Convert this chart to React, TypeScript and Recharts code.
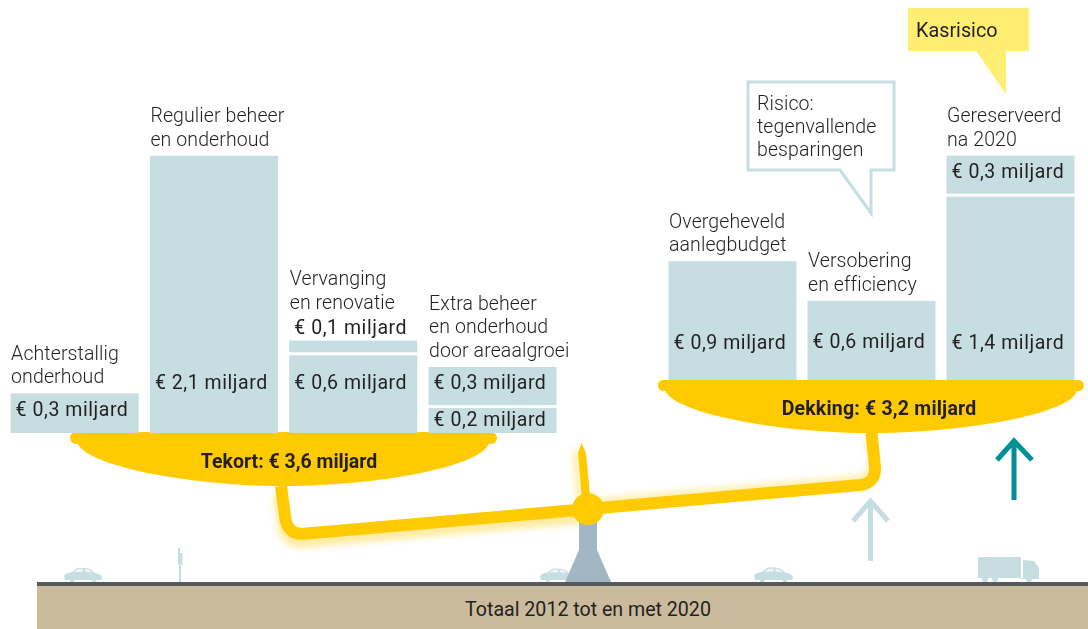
import { Bar, BarChart, LabelList, XAxis, YAxis } from 'recharts'

// bedragen in miljard euro
const categories = ['Achterstallig', 'Regulier', 'Vervanging', 'Extra', 'Overgeheveld', 'Versobering', 'Gereserveerd']
const lowerValues = [0.3, 2.1, 0.6, 0.2, 0.9, 0.6, 1.4]
const upperValues = [0, 0, 0.1, 0.3, 0, 0, 0.3]
const titles = [
  ['Achterstallig', 'onderhoud'],
  ['Regulier beheer', 'en onderhoud'],
  ['Vervanging', 'en renovatie'],
  ['Extra beheer', 'en onderhoud', 'door areaalgroei'],
  ['Overgeheveld', 'aanlegbudget'],
  ['Versobering', 'en efficiency'],
  ['Gereserveerd', 'na 2020'],
]
const sides = ['left', 'left', 'left', 'left', 'right', 'right', 'right']
// hoogte van de schaal boven de grond, de balans staat scheef
const panLift: Record<string, number> = { left: 1.129, right: 1.53 }

const table = categories.map((name, i) => {
  const side = sides[i]
  return {
    name,
    [`${side}Base`]: panLift[side],
    [`${side}Lower`]: lowerValues[i],
    [`${side}Upper`]: upperValues[i],
  }
})

// tekstplaatsing t.o.v. de bovenkant van het segment
const lowerLabelDy = [15, 226, 28, 12.4, 80, 40, 146]
const upperLabelDy = [0, 0, -13.6, 15, 0, 0, 14.6]
const titleExtra = [0, 0, 22, 0, 0, 0, 0]

const W = 1088
const H = 629
const BAR = '#c6dee1'
const YELLOW = '#ffcb00'
const INK = '#231f20'
const FONT = 'Roboto, sans-serif'
const GAP = 1.5

const euro = (v: number) => `€ ${String(v).replace('.', ',')} miljard`

function Segment(props: any) {
  const { x, y, width, height, trimTop = 0, trimBottom = 0 } = props
  if (!height || height <= 0) return null
  return <rect x={x} y={y + trimTop} width={width} height={height - trimTop - trimBottom} fill={BAR} />
}

function ValueLabel(props: any) {
  const { x, y, index, dys, values, side } = props
  if (sides[index] !== side || !values[index]) return null
  return (
    <text x={x + 5} y={y + dys[index] + 7.3} fontFamily={FONT} fontSize={19.5} fill={INK} letterSpacing={0.55}>
      {euro(values[index])}
    </text>
  )
}

function TitleLabel(props: any) {
  const { x, y, index, side } = props
  if (sides[index] !== side) return null
  const lines = titles[index]
  return (
    <text fontFamily={FONT} fontWeight={300} fontSize={19.5} letterSpacing={0.1} fill={INK}>
      {lines.map((line, i) => (
        <tspan key={line} x={x + 0.5} y={y - 10 - titleExtra[index] - (lines.length - 1 - i) * 23.5}>
          {line}
        </tspan>
      ))}
    </text>
  )
}

function Car({ x, w }: { x: number; w: number }) {
  const s = w / 38
  return (
    <g transform={`translate(${x},582) scale(${s})`} fill={BAR}>
      <path d="M0,-6 Q1,-9 8,-10 L13,-14 Q20,-15 26,-13 L31,-9 Q38,-8 38,-4 L37,-2 L1,-2 Z" />
      <path d="M10,-10 L14,-13 L19,-13 L19,-10 Z M21,-13 L25,-12.5 L28,-9.5 L21,-10 Z" fill="#fff" opacity={0.7} />
      <circle cx={8} cy={-2.5} r={2.5} />
      <circle cx={30} cy={-2.5} r={2.5} />
    </g>
  )
}

function Scenery() {
  const beamLeft = 'M281,486 L285,516 Q287,535 304,533.8 L588,509'
  const beamRight = 'M588,509 L860,485 Q876,483 875,467 L871.5,433'
  return (
    <g>
      <defs>
        <filter id="glow" x="-20%" y="-50%" width="140%" height="200%">
          <feGaussianBlur stdDeviation="3.5" />
        </filter>
      </defs>

      {/* grond */}
      <rect x={37} y={586} width={W - 37} height={43} fill="#cbbb9d" />
      <rect x={37} y={582} width={W - 37} height={4} fill="#58595b" />
      <text x={588} y={615.5} textAnchor="middle" fontFamily={FONT} fontSize={19.6} fill={INK}>
        Totaal 2012 tot en met 2020
      </text>

      {/* verkeer */}
      <Car x={64} w={38} />
      <Car x={540} w={36} />
      <Car x={754} w={39} />
      <path d="M178,548 H180 V553 H182.5 V565 H181 V582 H179 V565 H178 Z" fill={BAR} />
      <g fill={BAR}>
        <rect x={978} y={557} width={43} height={21} />
        <path d="M1023,560 L1034,561 L1039,568 V579 H1021 V578 H1023 Z" />
        <circle cx={985} cy={579} r={3} />
        <circle cx={995} cy={579} r={3} />
        <circle cx={1029} cy={579} r={3} />
      </g>

      {/* pijlen */}
      <path d="M870.5,561 V501 M853,521 L870.5,501 L888,521" fill="none" stroke={BAR} strokeWidth={5} />
      <path d="M1014,500 V441 M997,460 L1014,441 L1032,460" fill="none" stroke="#009098" strokeWidth={5} />

      {/* balans */}
      <path d="M579,515 H597 V550 L611,582 H565 L579,550 Z" fill="#a1b8c4" />
      <g filter="url(#glow)" opacity={0.4}>
        <path d={beamLeft} transform="translate(-2,8)" fill="none" stroke={YELLOW} strokeWidth={11} />
        <path d={beamRight} transform="translate(-3,-6)" fill="none" stroke={YELLOW} strokeWidth={6} />
        <path d="M576,450 L580,500" fill="none" stroke={YELLOW} strokeWidth={6} />
      </g>
      <path d={beamLeft} fill="none" stroke={YELLOW} strokeWidth={12} />
      <path d={beamRight} fill="none" stroke={YELLOW} strokeWidth={12} />
      <path d="M581.5,443 L586,453 L590.5,500 L582,500 L578,453 Z" fill={YELLOW} />
      <circle cx={588} cy={509} r={16} fill={YELLOW} />

      {/* schalen */}
      <path d="M77,442 C84,466 190,486 284,486 C378,486 486,466 489,442 Z" fill={YELLOW} />
      <rect x={70} y={432} width={427} height={12} rx={6} fill={YELLOW} />
      <path d="M665,390 C672,413 778,433 872,433 C966,433 1074,413 1077,390 Z" fill={YELLOW} />
      <rect x={658} y={380} width={426} height={11} rx={5.5} fill={YELLOW} />
      <text x={289} y={468} textAnchor="middle" fontFamily={FONT} fontWeight={700} fontSize={19.5} fill={INK}>
        Tekort: € 3,6 miljard
      </text>
      <text x={879} y={415} textAnchor="middle" fontFamily={FONT} fontWeight={700} fontSize={19.5} letterSpacing={0.2} fill={INK}>
        Dekking: € 3,2 miljard
      </text>

      {/* toelichtingen */}
      <path d="M908,8 H1029 V51 H1006 V94 L976,51 H908 Z" fill="#ffee72" />
      <text x={916} y={36.5} fontFamily={FONT} fontSize={19.8} fill={INK}>
        Kasrisico
      </text>
      <path d="M748,82 H894 V170 H871 V213 L840,170 H748 Z" fill="#fff" stroke={BAR} strokeWidth={3} />
      <text fontFamily={FONT} fontWeight={300} fontSize={19.5} letterSpacing={0.1} fill={INK}>
        <tspan x={757} y={110}>Risico:</tspan>
        <tspan x={757} y={133}>tegenvallende</tspan>
        <tspan x={757} y={156}>besparingen</tspan>
      </text>
    </g>
  )
}

export default function App() {
  return (
    <div style={{ position: 'absolute', left: 0, top: 0, width: W, height: H, background: '#fff' }}>
      <BarChart
        width={W}
        height={H}
        data={table}
        margin={{ top: 1.2, right: 0, bottom: 47, left: 0 }}
        barSize={128}
      >
        <XAxis xAxisId="left" dataKey="name" hide padding={{ left: 4.6, right: 108.07 }} />
        <XAxis xAxisId="right" dataKey="name" hide padding={{ left: 106.5, right: 8.5 }} />
        <YAxis hide domain={[0, 4.4]} />
        <Scenery />
        {['left', 'right'].flatMap((side) => [
          <Bar
            key={`${side}Base`}
            xAxisId={side}
            dataKey={`${side}Base`}
            stackId={side}
            fill="none"
            isAnimationActive={false}
          />,
          <Bar
            key={`${side}Lower`}
            xAxisId={side}
            dataKey={`${side}Lower`}
            stackId={side}
            isAnimationActive={false}
            shape={(p: any) => <Segment {...p} trimTop={upperValues[p.index] ? GAP : 0} />}
          >
            <LabelList
              dataKey={`${side}Lower`}
              content={(p: any) => <ValueLabel {...p} side={side} dys={lowerLabelDy} values={lowerValues} />}
            />
          </Bar>,
          <Bar
            key={`${side}Upper`}
            xAxisId={side}
            dataKey={`${side}Upper`}
            stackId={side}
            isAnimationActive={false}
            shape={(p: any) => <Segment {...p} trimBottom={GAP} />}
          >
            <LabelList
              dataKey={`${side}Upper`}
              content={(p: any) => <ValueLabel {...p} side={side} dys={upperLabelDy} values={upperValues} />}
            />
            <LabelList dataKey={`${side}Upper`} content={(p: any) => <TitleLabel {...p} side={side} />} />
          </Bar>,
        ])}
      </BarChart>
    </div>
  )
}
